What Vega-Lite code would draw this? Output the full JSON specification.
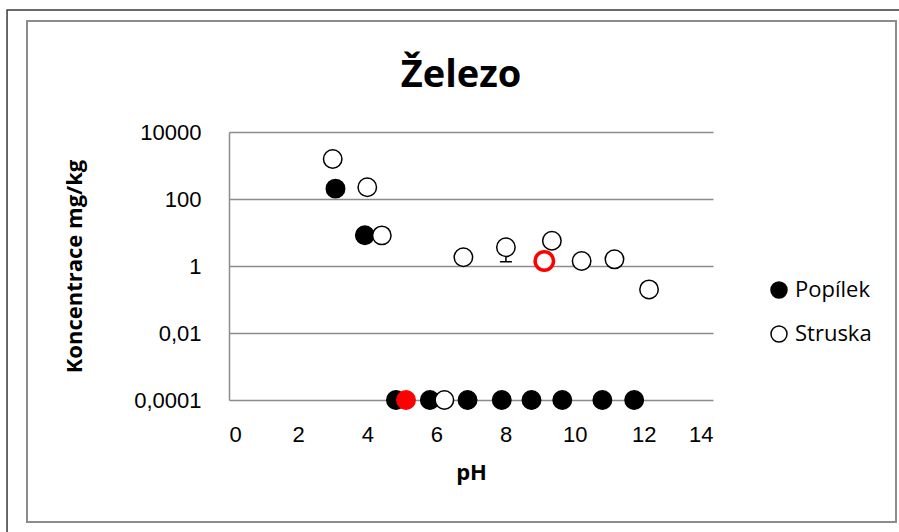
{
  "$schema": "https://vega.github.io/schema/vega-lite/v6.json",
  "width": 484,
  "height": 268,
  "autosize": {"type": "none"},
  "padding": {"left": 229, "top": 132, "right": 186, "bottom": 132},
  "background": "white",
  "config": {
    "view": {"stroke": null},
    "font": "Open Sans",
    "axis": {"labelFont": "Liberation Sans", "labelColor": "black", "titleColor": "black", "titleFont": "Open Sans", "titleFontWeight": "bold", "titleFontSize": 22}
  },
  "title": {
    "text": "Železo",
    "font": "Open Sans",
    "fontSize": 38,
    "fontWeight": "bold",
    "color": "black",
    "frame": "group",
    "anchor": "middle",
    "dx": -10,
    "offset": -86
  },
  "data": {
    "values": [
      {"serie": "Popílek", "pH": 3.08, "koncentrace": 204},
      {"serie": "Popílek", "pH": 3.93, "koncentrace": 8.25},
      {"serie": "Popílek", "pH": 4.83, "koncentrace": 0.0001},
      {"serie": "Popílek", "pH": 5.12, "koncentrace": 0.0001, "zvyrazneni": true},
      {"serie": "Popílek", "pH": 5.81, "koncentrace": 0.0001},
      {"serie": "Popílek", "pH": 6.9, "koncentrace": 0.0001},
      {"serie": "Popílek", "pH": 7.89, "koncentrace": 0.0001},
      {"serie": "Popílek", "pH": 8.75, "koncentrace": 0.0001},
      {"serie": "Popílek", "pH": 9.64, "koncentrace": 0.0001},
      {"serie": "Popílek", "pH": 10.8, "koncentrace": 0.0001},
      {"serie": "Popílek", "pH": 11.72, "koncentrace": 0.0001},
      {"serie": "Struska", "pH": 3.0, "koncentrace": 1560},
      {"serie": "Struska", "pH": 4.0, "koncentrace": 224},
      {"serie": "Struska", "pH": 4.42, "koncentrace": 8.2},
      {"serie": "Struska", "pH": 6.23, "koncentrace": 0.0001},
      {"serie": "Struska", "pH": 6.78, "koncentrace": 1.82},
      {"serie": "Struska", "pH": 8.01, "koncentrace": 3.61, "dolni_mez": 1.34},
      {"serie": "Struska", "pH": 9.12, "koncentrace": 1.41, "zvyrazneni": true},
      {"serie": "Struska", "pH": 9.34, "koncentrace": 5.7},
      {"serie": "Struska", "pH": 10.2, "koncentrace": 1.41},
      {"serie": "Struska", "pH": 11.15, "koncentrace": 1.58},
      {"serie": "Struska", "pH": 12.15, "koncentrace": 0.2}
    ]
  },
  "layer": [
    {
      "transform": [{"filter": "isValid(datum.dolni_mez)"}],
      "mark": {"type": "rule", "color": "black", "strokeWidth": 1.5},
      "encoding": {
        "x": {
          "field": "pH",
          "type": "quantitative",
          "scale": {"domain": [0, 14], "nice": false, "zero": false},
          "axis": {
            "title": "pH",
            "values": [0, 2, 4, 6, 8, 10, 12, 14],
            "domain": false,
            "ticks": false,
            "grid": false,
            "labelFontSize": 22,
            "labelPadding": 24,
            "titlePadding": 17
          }
        },
        "y": {
          "field": "dolni_mez",
          "type": "quantitative",
          "scale": {"type": "log", "domain": [0.0001, 10000], "nice": false},
          "axis": {
            "title": "Koncentrace mg/kg",
            "values": [0.0001, 0.01, 1, 100, 10000],
            "format": "~g",
            "labelExpr": "replace(datum.label, '.', ',')",
            "domain": true,
            "domainColor": "#8c8c8c",
            "domainWidth": 1.5,
            "ticks": false,
            "grid": true,
            "gridColor": "#8c8c8c",
            "gridWidth": 1.5,
            "labelFontSize": 22,
            "labelPadding": 28,
            "titlePadding": 47
          }
        },
        "y2": {"field": "koncentrace"}
      }
    },
    {
      "data": {"values": [{}]},
      "mark": {"type": "rect", "fill": null, "stroke": "#3a3a3a", "strokeWidth": 1.5, "clip": false},
      "encoding": {
        "x": {"datum": -6.42, "type": "quantitative"},
        "x2": {"datum": 19.8},
        "y": {"datum": 43850000, "type": "quantitative"},
        "y2": {"datum": 0.000000004}
      }
    },
    {
      "data": {"values": [{}]},
      "mark": {"type": "rect", "fill": null, "stroke": "#8c8c8c", "strokeWidth": 2, "clip": false},
      "encoding": {
        "x": {"datum": -5.843, "type": "quantitative"},
        "x2": {"datum": 19.293},
        "y": {"datum": 20580000, "type": "quantitative"},
        "y2": {"datum": 0.0000000228}
      }
    },
    {
      "transform": [{"filter": "isValid(datum.dolni_mez)"}],
      "mark": {"type": "tick", "orient": "horizontal", "color": "black", "size": 12, "thickness": 1.5, "opacity": 1},
      "encoding": {
        "x": {"field": "pH", "type": "quantitative"},
        "y": {"field": "dolni_mez", "type": "quantitative"}
      }
    },
    {
      "mark": {"type": "circle", "size": 340, "opacity": 1},
      "encoding": {
        "x": {"field": "pH", "type": "quantitative"},
        "y": {"field": "koncentrace", "type": "quantitative"},
        "fill": {
          "field": "serie",
          "type": "nominal",
          "scale": {"domain": ["Popílek", "Struska"], "range": ["black", "white"]},
          "condition": {"test": "datum.zvyrazneni && datum.serie === 'Popílek'", "value": "red"},
          "legend": {
            "title": null,
            "orient": "none",
            "legendX": 539,
            "legendY": 147,
            "symbolType": "circle",
            "symbolSize": 256,
            "symbolStrokeColor": "black",
            "symbolStrokeWidth": 1.5,
            "labelFont": "Open Sans",
            "labelFontSize": 22,
            "labelColor": "black",
            "labelOffset": 5,
            "rowPadding": 22
          }
        },
        "stroke": {
          "condition": {"test": "datum.zvyrazneni", "value": "red"},
          "value": "black"
        },
        "strokeWidth": {
          "condition": {"test": "datum.zvyrazneni && datum.serie === 'Struska'", "value": 3.5},
          "value": 1.5
        }
      }
    }
  ]
}
